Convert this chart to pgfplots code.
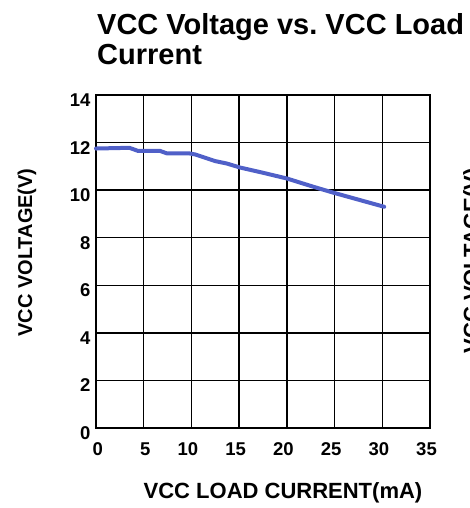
\documentclass[border=0pt]{standalone}
\usepackage{pgfplots}
\pgfplotsset{compat=1.18}
\usepackage{fontspec}
\setmainfont{Liberation Sans}
\frenchspacing
\definecolor{curveblue}{RGB}{80,96,200}
\begin{document}
\begin{tikzpicture}[x=1pt,y=1pt]
\begin{axis}[
  at={(96pt,-428pt)}, anchor=south west,
  scale only axis, width=334pt, height=333pt,
  xmin=0, xmax=35, ymin=0, ymax=14,
  xtick={0,5,...,35}, ytick={0,2,...,14},
  grid=major,
  grid style={black, line width=1.3pt},
  axis line style={black, line width=2pt},
  major tick length=0pt,
  /pgf/number format/assume math mode=true,
  tick label style={font=\fontsize{18.5}{20}\selectfont\bfseries},
  xticklabel style={anchor=base east, inner sep=0pt, xshift=7pt, yshift=-27pt},
  yticklabel style={anchor=east, xshift=-2pt, yshift=-5pt},
  clip=false,
]
\addplot[curveblue, line width=4pt, line join=round, line cap=round] coordinates {
(0,11.75)(3.5,11.78)(4.4,11.65)(6.7,11.65)(7.4,11.55)(9.7,11.55)(10.4,11.5)
(12.5,11.22)(13.7,11.12)(15.1,10.95)(17.4,10.74)(20,10.49)(22.8,10.14)
(24.9,9.89)(30.2,9.3)
};
\end{axis}
\node[anchor=base west, inner sep=0pt, font=\fontsize{29}{30}\selectfont\bfseries] at (97,-35) {VCC Voltage vs. VCC Load};
\node[anchor=base west, inner sep=0pt, font=\fontsize{29}{30}\selectfont\bfseries] at (97,-65) {Current};
\node[anchor=base, inner sep=0pt, rotate=90, font=\fontsize{20}{22}\selectfont\bfseries] at (32,-252.5) {VCC VOLTAGE(V)};
\node[anchor=base, inner sep=0pt, font=\fontsize{22}{24}\selectfont\bfseries] at (283,-498) {VCC LOAD CURRENT(mA)};
\node[anchor=base, inner sep=0pt, rotate=90, font=\fontsize{22}{24}\selectfont\bfseries] at (479,-261) {VCC VOLTAGE(V)};
\pgfresetboundingbox
\useasboundingbox (0,0) rectangle (469,-508);
\end{tikzpicture}
\end{document}
